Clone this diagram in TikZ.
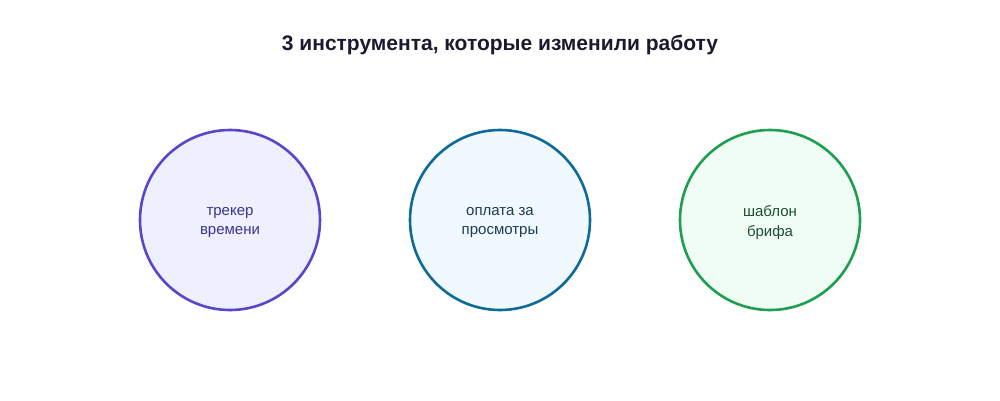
\documentclass[tikz,border=0pt]{standalone}
\usepackage{fontspec}
\setmainfont{Liberation Sans}
\definecolor{purpleS}{HTML}{5B45C9}
\definecolor{purpleF}{HTML}{EEF0FE}
\definecolor{purpleT}{HTML}{3B3391}
\definecolor{blueS}{HTML}{0E6A96}
\definecolor{blueF}{HTML}{F0F9FF}
\definecolor{blueT}{HTML}{1E3A4F}
\definecolor{greenS}{HTML}{1E9E50}
\definecolor{greenF}{HTML}{F0FDF4}
\definecolor{greenT}{HTML}{1F4D33}
\definecolor{titleC}{HTML}{1A1A2E}
\begin{document}
\begin{tikzpicture}[x=1pt,y=-1pt,
  tool/.style={circle,minimum size=180pt,inner sep=0pt,line width=2.6pt},
  tooltext/.style={align=center,font=\fontsize{15}{19.5}\selectfont,inner sep=0pt},
  ttl/.style={font=\fontsize{21}{25}\selectfont\bfseries,text=titleC}]
\useasboundingbox[fill=white] (0,0) rectangle (1000,400);
\node[ttl] (title) at (500,45) {3 инструмента, которые изменили работу};
\node[tool,draw=purpleS,fill=purpleF] (c1) at (230,220) {};
\node[tool,draw=blueS,fill=blueF] (c2) at (500,220) {};
\node[tool,draw=greenS,fill=greenF] (c3) at (770,220) {};
\node[tooltext,text=purpleT,yshift=-2.5pt] (t1) at (c1) {трекер\\времени};
\node[tooltext,text=blueT,yshift=-2.5pt] (t2) at (c2) {оплата за\\просмотры};
\node[tooltext,text=greenT,yshift=-2.5pt] (t3) at (c3) {шаблон\\брифа};
\end{tikzpicture}
\end{document}
